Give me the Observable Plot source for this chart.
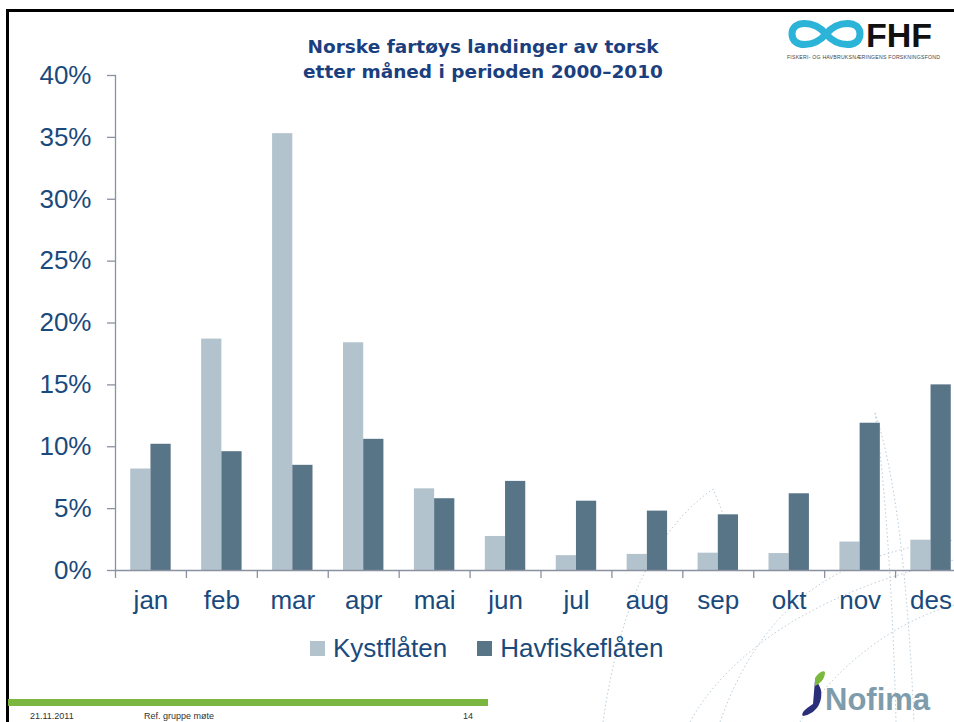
<!DOCTYPE html>
<html>
<head>
<meta charset="utf-8">
<script src="https://cdn.jsdelivr.net/npm/d3@7"></script>
<script src="https://cdn.jsdelivr.net/npm/@observablehq/plot@0.6"></script>
<style>
  html, body { margin: 0; padding: 0; background: #fff; overflow: hidden; }
  body { width: 954px; height: 722px; position: relative; font-family: "Liberation Sans", Arial, sans-serif; }
  #deco { position: absolute; left: 0; top: 0; }
  #border { position: absolute; left: 6px; top: 9px; width: 960px; height: 720px; border-left: 3px solid #000; border-top: 3px solid #000; box-sizing: border-box; }
  #chart { position: absolute; left: 0; top: 0; width: 966px; }
  #chart svg { overflow: visible; max-width: none !important; }
  #title { position: absolute; left: 233px; width: 500px; top: 34px; text-align: center; color: #1b3f7e; font-family: "Comic Sans MS", "DejaVu Sans", sans-serif; font-weight: bold; font-size: 18.5px; line-height: 25px; }
  #legend { position: absolute; top: 633px; left: 310px; display: flex; align-items: center; color: #1a4a7c; font-size: 26px; white-space: nowrap; }
  #legend .item { display: flex; align-items: center; margin-right: 30px; }
  #legend .sw { width: 15px; height: 15px; margin-right: 8px; }
  #footbar { position: absolute; left: 8px; top: 699px; width: 480px; height: 7px; background: #7ab640; }
  .foot { position: absolute; top: 711px; font-size: 9px; color: #333; }
  #fhf { position: absolute; left: 780px; top: 14px; }
  #nofima { position: absolute; left: 795px; top: 668px; }
</style>
</head>
<body>
<svg id="deco" width="954" height="722">
  <g fill="none" stroke="#bccdd9" stroke-width="1" stroke-dasharray="1.5 2.5">
    <path d="M603,722 C615,640 640,540 713,489 C720,505 726,520 732,545"/>
    <path d="M875,413 C895,470 908,580 914,722"/>
    <path d="M875,413 C885,480 893,600 896,722"/>
    <path d="M690,722 C730,650 820,590 954,560"/>
    <path d="M800,722 C840,660 900,620 954,605"/>
    <path d="M720,722 C760,610 830,555 954,540"/>
  </g>
</svg>
<div id="border"></div>
<div id="chart"></div>
<div id="title">Norske fartøys landinger av torsk<br>etter måned i perioden 2000–2010</div>
<div id="legend"></div>
<div id="footbar"></div>
<div class="foot" style="left:30px">21.11.2011</div>
<div class="foot" style="left:144px">Ref. gruppe møte</div>
<div class="foot" style="left:463px">14</div>
<svg id="fhf" width="170" height="50">
  <path d="M12,20 C12,6 34,6 46,20 C58,34 80,34 80,20 C80,6 58,6 46,20 C34,34 12,34 12,20 Z" fill="none" stroke="#2bb3d8" stroke-width="7"/>
  <text x="86" y="33" font-family="Liberation Sans, Arial, sans-serif" font-size="34" font-weight="bold" fill="#111">FHF</text>
  <text x="7" y="45" font-family="Liberation Sans, Arial, sans-serif" font-size="5.2" fill="#444" textLength="153">FISKERI- OG HAVBRUKSNÆRINGENS FORSKNINGSFOND</text>
</svg>
<svg id="nofima" width="150" height="52">
  <path d="M18,36 C8,42 6,46 8,48 C20,46 28,36 26,22 C24,16 22,14 20,12" fill="#2a2f7a"/>
  <path d="M20,10 C24,4 28,2 30,4 C30,12 24,16 20,18 Z" fill="#7ab83e"/>
  <text x="30" y="42" font-family="Liberation Sans, Arial, sans-serif" font-size="31" font-weight="bold" fill="#7e9cab">Nofima</text>
</svg>
<script>
const months = ["jan", "feb", "mar", "apr", "mai", "jun", "jul", "aug", "sep", "okt", "nov", "des"];
const kystflaten = [8.2, 18.7, 35.3, 18.4, 6.6, 2.75, 1.2, 1.3, 1.4, 1.37, 2.3, 2.45];
const havfiskeflaten = [10.2, 9.6, 8.5, 10.6, 5.8, 7.2, 5.6, 4.8, 4.5, 6.2, 11.9, 15.0];
const seriesNames = ["Kystflåten", "Havfiskeflåten"];
const seriesColors = ["#b3c3cd", "#587487"];
const yTicks = [0, 5, 10, 15, 20, 25, 30, 35, 40];

const axisGrey = "#8a91a1";
const textBlue = "#1a4a7c";

const rows = months.flatMap((m, i) => [
  {month: m, series: seriesNames[0], value: kystflaten[i]},
  {month: m, series: seriesNames[1], value: havfiskeflaten[i]}
]);

const W = 966, ML = 115, MR = 0;
const step = (W - ML - MR) / months.length;
const groupPad = step * 0.215;
const barW = step * 0.285;

const chart = Plot.plot({
  width: W,
  height: 625,
  marginLeft: ML,
  marginRight: MR,
  marginTop: 75,
  marginBottom: 55,
  x: {domain: months, padding: 0, round: false, axis: null, label: null},
  y: {domain: [0, 40], axis: null, label: null},
  color: {domain: seriesNames, range: seriesColors},
  style: {fontFamily: "Liberation Sans, Arial, sans-serif", background: "transparent", overflow: "visible", maxWidth: "none"},
  marks: [
    Plot.barY(rows.filter(d => d.series === seriesNames[0]), {x: "month", y: "value", fill: "series", insetLeft: groupPad, insetRight: step - groupPad - barW}),
    Plot.barY(rows.filter(d => d.series === seriesNames[1]), {x: "month", y: "value", fill: "series", insetLeft: groupPad + barW, insetRight: step - groupPad - 2 * barW}),
    Plot.ruleY([0], {stroke: axisGrey, strokeWidth: 1.3}),
    Plot.frame({anchor: "left", stroke: axisGrey, strokeWidth: 1.3}),
    Plot.axisY({ticks: yTicks, tickSize: 8, tickPadding: 16, tickFormat: d => d + "%", fontSize: 26, stroke: axisGrey, fill: textBlue, strokeWidth: 1.3, label: null}),
    Plot.axisX({tickSize: 8, tickFormat: () => "", stroke: axisGrey, strokeWidth: 1.3, dx: -step / 2, label: null}),
    Plot.axisX({tickSize: 0, tickPadding: 20, fontSize: 26, fill: textBlue, label: null})
  ]
});
document.getElementById("chart").appendChild(chart);

const legend = document.getElementById("legend");
seriesNames.forEach((name, i) => {
  const item = document.createElement("div");
  item.className = "item";
  const sw = document.createElement("div");
  sw.className = "sw";
  sw.style.background = seriesColors[i];
  const label = document.createElement("span");
  label.textContent = name;
  item.appendChild(sw);
  item.appendChild(label);
  legend.appendChild(item);
});
</script>
</body>
</html>
